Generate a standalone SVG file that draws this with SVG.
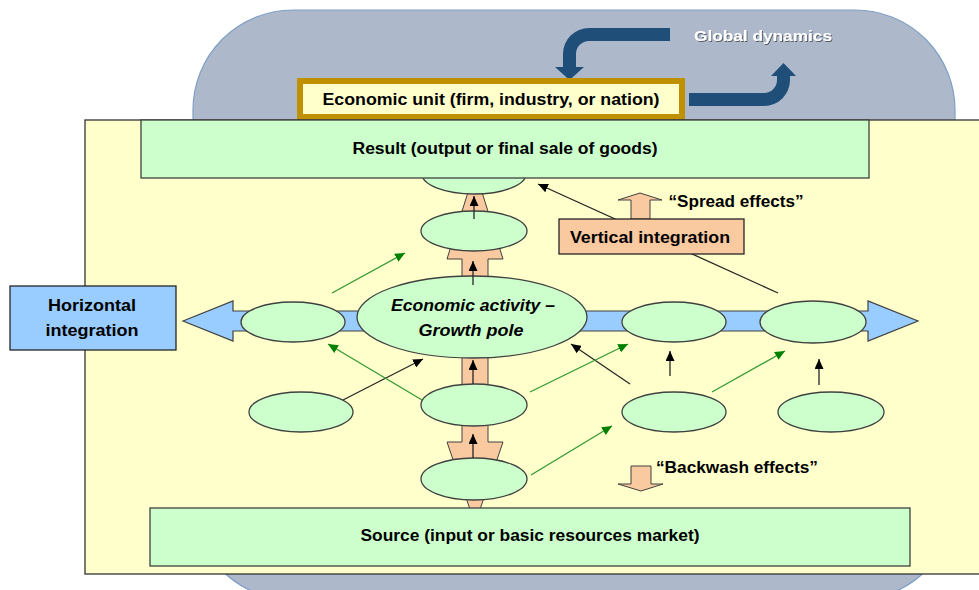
<svg xmlns="http://www.w3.org/2000/svg" width="979" height="590" viewBox="0 0 979 590">
<defs>
<style>
.t{font-family:"Liberation Sans",Arial,sans-serif;font-weight:bold;fill:#000;text-anchor:middle}
.ell{fill:#ccffcc;stroke:#404040;stroke-width:1.3}
.box{fill:#ccffcc;stroke:#404040;stroke-width:1.3}
.blk{stroke:#262626;stroke-width:1.3;fill:none;marker-end:url(#hb)}
.grn{stroke:#339933;stroke-width:1.3;fill:none;marker-end:url(#hg)}
.org{fill:#f9c9a0;stroke:#404040;stroke-width:1}
.dbl{fill:#1f4e79}
</style>
<marker id="hb" markerUnits="userSpaceOnUse" markerWidth="10" markerHeight="9" refX="10" refY="4.5" orient="auto"><path d="M0,0 L10,4.5 L0,9 z" fill="#000"/></marker>
<marker id="hg" markerUnits="userSpaceOnUse" markerWidth="10" markerHeight="9" refX="10" refY="4.5" orient="auto"><path d="M0,0 L10,4.5 L0,9 z" fill="#008000"/></marker>
<filter id="sh" x="-10%" y="-30%" width="120%" height="160%"><feDropShadow dx="1" dy="1" stdDeviation="0.6" flood-color="#000" flood-opacity="0.5"/></filter>
</defs>

<g id="background">
<rect x="193" y="10" width="762" height="590" rx="100" ry="100" fill="#adb9ca" stroke="#7f9fc6" stroke-width="1.2"/>
</g>

<g id="global-dynamics">
<path class="dbl" d="M670,28 L589,28 A26,26 0 0 0 563,54 L563,67 L555,67 L569.5,80 L584,67 L576,67 L576,54 A13,13 0 0 1 589,41 L670,41 Z"/>
<path class="dbl" d="M689,93 L764,93 A13,13 0 0 0 777,80 L777,76 L771,76 L783.5,63 L796,76 L790,76 L790,80 A26,26 0 0 1 764,106 L689,106 Z"/>
<text x="763" y="41" class="t" style="fill:#fff;font-size:15px" filter="url(#sh)" textLength="138" lengthAdjust="spacingAndGlyphs">Global dynamics</text>
</g>

<g id="economic-unit">
<rect x="300" y="81" width="382" height="36" fill="#ffffcc" stroke="#bf9000" stroke-width="6"/>
<text x="491" y="105" class="t" style="font-size:16px" textLength="337" lengthAdjust="spacingAndGlyphs">Economic unit (firm, industry, or nation)</text>
</g>

<g id="frame">
<rect x="85" y="120" width="900" height="454" fill="#ffffcc" stroke="#333" stroke-width="1.3"/>
</g>

<g id="vertical-arrow">
<polygon class="org" points="475,170 503,259 488,259 488,442 503,442 475,524 447,442 462,442 462,259 447,259"/>
</g>

<g id="node-top"><ellipse class="ell" cx="474" cy="174" rx="52" ry="20"/></g>

<g id="result">
<rect class="box" x="141" y="120" width="728" height="58"/>
<text x="505" y="154" class="t" style="font-size:16px" textLength="305" lengthAdjust="spacingAndGlyphs">Result (output or final sale of goods)</text>
</g>

<g id="horizontal-arrow">
<polygon points="183,321 233,301 233,311 868,311 868,301 918,321 868,341 868,331 233,331 233,341" fill="#99ccff" stroke="#404040" stroke-width="1.2"/>
</g>

<g id="node-h1"><ellipse class="ell" cx="293" cy="322" rx="52" ry="20"/></g>
<g id="node-bl"><ellipse class="ell" cx="301" cy="412" rx="52" ry="20"/></g>
<g id="node-up"><ellipse class="ell" cx="474" cy="231" rx="53" ry="20"/></g>
<g id="node-pole">
<ellipse class="ell" cx="472" cy="317" rx="115" ry="41"/>
<text x="473" y="311" class="t" style="font-size:16px;font-style:italic" textLength="164" lengthAdjust="spacingAndGlyphs">Economic activity –</text>
<text x="471" y="336" class="t" style="font-size:16px;font-style:italic" textLength="105" lengthAdjust="spacingAndGlyphs">Growth pole</text>
</g>
<g id="node-mid"><ellipse class="ell" cx="474" cy="405" rx="53" ry="21"/></g>
<g id="node-low"><ellipse class="ell" cx="474" cy="479" rx="53" ry="21"/></g>
<g id="node-h2"><ellipse class="ell" cx="674" cy="322" rx="52" ry="20"/></g>
<g id="node-h3"><ellipse class="ell" cx="813" cy="322" rx="53" ry="21"/></g>
<g id="node-br1"><ellipse class="ell" cx="674" cy="412" rx="52" ry="20"/></g>
<g id="node-br2"><ellipse class="ell" cx="831" cy="412" rx="53" ry="20"/></g>

<g id="connectors">
<path class="blk" d="M474,219 L474,196"/>
<path class="blk" d="M473,285 L473,261"/>
<path class="blk" d="M473,384 L473,360"/>
<path class="blk" d="M473,458 L473,434"/>
<path class="blk" d="M670,376 L670,351"/>
<path class="blk" d="M819,385 L819,359"/>
<path class="blk" d="M343,400 L423,359"/>
<path class="blk" d="M630,384 L571,344"/>
<path class="blk" d="M778,293 L538,184"/>
<path class="grn" d="M332,293 L405,253"/>
<path class="grn" d="M422,400 L328,344"/>
<path class="grn" d="M530,392 L628,344"/>
<path class="grn" d="M531,475 L612,426"/>
<path class="grn" d="M712,392 L785,351"/>
</g>

<g id="horizontal-integration">
<rect x="10" y="286" width="166" height="64" fill="#99ccff" stroke="#262626" stroke-width="1.3"/>
<text x="92" y="311" class="t" style="font-size:16px" textLength="88" lengthAdjust="spacingAndGlyphs">Horizontal</text>
<text x="92" y="336" class="t" style="font-size:16px" textLength="93" lengthAdjust="spacingAndGlyphs">integration</text>
</g>

<g id="spread-effects">
<polygon class="org" points="631,219 631,200 618,200 640,193 662,200 650,200 650,219"/>
<text x="736" y="207" class="t" style="font-size:16px" textLength="135" lengthAdjust="spacingAndGlyphs">“Spread effects”</text>
</g>

<g id="vertical-integration">
<rect x="559" y="219" width="185" height="35" fill="#f9c9a0" stroke="#262626" stroke-width="1.3"/>
<text x="650" y="243" class="t" style="font-size:17px" textLength="160" lengthAdjust="spacingAndGlyphs">Vertical integration</text>
</g>

<g id="backwash-effects">
<polygon class="org" points="631,466 651,466 651,484 663,484 641,491 618,484 631,484"/>
<text x="737" y="473" class="t" style="font-size:16px" textLength="162" lengthAdjust="spacingAndGlyphs">“Backwash effects”</text>
</g>

<g id="source">
<rect class="box" x="150" y="508" width="760" height="58"/>
<text x="530" y="541" class="t" style="font-size:16px" textLength="339" lengthAdjust="spacingAndGlyphs">Source (input or basic resources market)</text>
</g>
</svg>
